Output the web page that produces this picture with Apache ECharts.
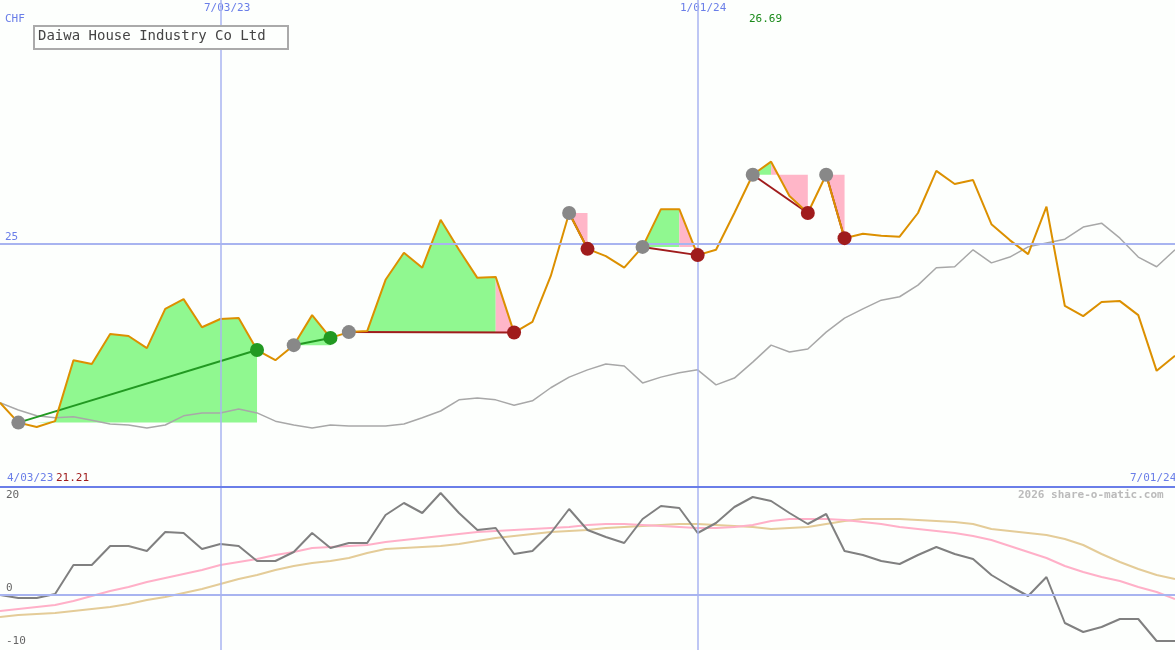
<!DOCTYPE html>
<html>
<head>
<meta charset="utf-8">
<script src="https://cdn.jsdelivr.net/npm/echarts@6/dist/echarts.min.js"></script>
<style>
  html, body { margin: 0; padding: 0; background: #fdfffd; }
  #chart { width: 1175px; height: 650px; }
</style>
</head>
<body>
<div id="chart"></div>
<script>
// weekly closes, CHF
const price = [21.71, 21.30, 21.21, 21.33, 22.59, 22.51, 23.13, 23.09, 22.84, 23.65,
  23.85, 23.27, 23.44, 23.46, 22.80, 22.59, 22.90, 23.52, 23.05, 23.17,
  23.19, 24.25, 24.81, 24.50, 25.49, 24.87, 24.29, 24.31, 23.16, 23.38,
  24.33, 25.63, 24.89, 24.74, 24.50, 24.93, 25.71, 25.71, 24.76, 24.87,
  25.63, 26.42, 26.69, 25.98, 25.63, 26.42, 25.11, 25.20, 25.16, 25.14,
  25.63, 26.50, 26.23, 26.31, 25.40, 25.07, 24.78, 25.76, 23.71, 23.50,
  23.79, 23.81, 23.52, 22.37, 22.68];
const avg = [21.71, 21.56, 21.44, 21.40, 21.42, 21.35, 21.27, 21.25, 21.19, 21.25,
  21.44, 21.50, 21.50, 21.58, 21.50, 21.33, 21.25, 21.19, 21.25, 21.23,
  21.23, 21.23, 21.27, 21.40, 21.54, 21.77, 21.81, 21.77, 21.66, 21.75,
  22.02, 22.24, 22.39, 22.51, 22.47, 22.12, 22.24, 22.33, 22.39, 22.08,
  22.22, 22.55, 22.90, 22.76, 22.82, 23.17, 23.46, 23.65, 23.83, 23.90,
  24.14, 24.50, 24.52, 24.87, 24.60, 24.72, 24.93, 25.01, 25.09, 25.34,
  25.42, 25.11, 24.72, 24.52, 24.87];
const momentum = [0, -0.6, -0.6, 0.2, 6, 6, 9.8, 9.8, 8.8, 12.6,
  12.4, 9.2, 10.2, 9.8, 6.8, 6.8, 8.6, 12.4, 9.4, 10.4,
  10.4, 16, 18.4, 16.4, 20.4, 16.4, 13, 13.4, 8.2, 8.8,
  12.4, 17.2, 13, 11.6, 10.4, 15.2, 17.8, 17.4, 12.4, 14.4,
  17.6, 19.6, 18.8, 16.4, 14.2, 16.2, 8.8, 8, 6.8, 6.2,
  8, 9.6, 8.2, 7.2, 4, 1.8, -0.2, 3.6, -5.6, -7.4,
  -6.4, -4.8, -4.8, -9.2, -9.2];
const fastAvg = [-3.2, -2.8, -2.4, -2.0, -1.2, -0.2, 0.8, 1.6, 2.6, 3.4,
  4.2, 5.0, 6.0, 6.6, 7.2, 8.0, 8.6, 9.4, 9.6, 9.8,
  10.0, 10.6, 11.0, 11.4, 11.8, 12.2, 12.6, 12.8, 13.0, 13.2,
  13.4, 13.6, 14.0, 14.2, 14.2, 14.0, 13.8, 13.6, 13.4, 13.4,
  13.6, 14.0, 14.8, 15.2, 15.2, 15.2, 15.0, 14.6, 14.2, 13.6,
  13.2, 12.8, 12.4, 11.8, 11.0, 9.8, 8.6, 7.4, 5.8, 4.6,
  3.6, 2.8, 1.6, 0.6, -0.8];
const slowAvg = [-4.4, -4.0, -3.8, -3.6, -3.2, -2.8, -2.4, -1.8, -1.0, -0.4,
  0.4, 1.2, 2.2, 3.2, 4.0, 5.0, 5.8, 6.4, 6.8, 7.4,
  8.4, 9.2, 9.4, 9.6, 9.8, 10.2, 10.8, 11.4, 11.8, 12.2,
  12.6, 12.8, 13.0, 13.4, 13.6, 13.8, 14.0, 14.2, 14.2, 14.0,
  13.8, 13.6, 13.2, 13.4, 13.6, 14.2, 14.8, 15.2, 15.2, 15.2,
  15.0, 14.8, 14.6, 14.2, 13.2, 12.8, 12.4, 12.0, 11.2, 10.0,
  8.2, 6.6, 5.2, 4.0, 3.2];
// trades: [entry index, exit index, index where the pink (fading) part starts]
const trades = [[1, 14, 14], [16, 18, 18], [19, 28, 27], [31, 32, 31],
  [35, 38, 37], [41, 44, 42], [45, 46, 45]];
const markDates = ['2023-07-03', '2024-01-01'];

const dates = [];
for (let i = 0; i < price.length; i++) {
  const d = new Date(Date.UTC(2023, 3, 10 + 7 * i));
  dates.push(d.toISOString().slice(0, 10));
}
const pair = arr => arr.map((v, i) => [dates[i], v]);

const font = '"DejaVu Sans Mono", monospace';
const blue = '#6a7ee8';
const lightBlue = '#a8b4f0';

function fillItem(params, api) {
  const t = trades[params.dataIndex];
  const base = price[t[0]];
  const green = [], pink = [];
  for (let i = t[0]; i <= t[2]; i++) green.push(api.coord([dates[i], Math.max(price[i], base)]));
  green.push(api.coord([dates[t[2]], base]), api.coord([dates[t[0]], base]));
  for (let i = t[2]; i <= t[1]; i++) pink.push(api.coord([dates[i], price[i]]));
  pink.push(api.coord([dates[t[1]], base]), api.coord([dates[t[2]], base]));
  const children = [{ type: 'polygon', shape: { points: green }, style: { fill: '#90f890' } }];
  if (t[1] > t[2]) children.push({ type: 'polygon', shape: { points: pink }, style: { fill: '#ffb6c8' } });
  return { type: 'group', children: children };
}

const tradeLines = trades.map(t => ({
  coords: [[dates[t[0]], price[t[0]]], [dates[t[1]], price[t[1]]]],
  lineStyle: { color: price[t[1]] > price[t[0]] ? '#229922' : '#a01c1c', width: 2, opacity: 1 }
}));
const entryDots = trades.map(t => [dates[t[0]], price[t[0]]]);
const exitDots = trades.map(t => ({
  value: [dates[t[1]], price[t[1]]],
  itemStyle: { color: price[t[1]] > price[t[0]] ? '#229922' : '#a01c1c', opacity: 1 }
}));

const vLines = {
  silent: true, symbol: 'none', label: { show: false },
  lineStyle: { color: lightBlue, type: 'solid', width: 1.5 },
  data: markDates.map(d => ({ xAxis: d }))
};
const hLine = v => ({
  silent: true, symbol: 'none', label: { show: false },
  lineStyle: { color: lightBlue, type: 'solid', width: 2 },
  data: [{ yAxis: v }]
});

const txt = (x, y, s, color, extra) => Object.assign({
  type: 'text', left: x, top: y,
  style: { text: s, fill: color, font: '11px ' + font }
}, extra || {});

const chart = echarts.init(document.getElementById('chart'));
chart.setOption({
  backgroundColor: '#fdfffd',
  animation: false,
  grid: [
    { left: 0, right: 0, top: 0, height: 487 },
    { left: 0, right: 0, top: 487, height: 163 }
  ],
  xAxis: [0, 1].map(g => ({
    type: 'time', gridIndex: g, min: dates[0], max: dates[dates.length - 1],
    show: false, splitLine: { show: false }
  })),
  yAxis: [
    { gridIndex: 0, min: 19.97, max: 30.03, show: false, splitLine: { show: false } },
    { gridIndex: 1, min: -11, max: 21.6, show: false, splitLine: { show: false } }
  ],
  series: [
    { type: 'custom', xAxisIndex: 0, yAxisIndex: 0, renderItem: fillItem,
      data: trades.map((t, i) => i), z: 1, markLine: vLines },
    { type: 'line', xAxisIndex: 0, yAxisIndex: 0, data: pair(avg), symbol: 'none',
      lineStyle: { color: '#a8a8a8', width: 1.5 }, z: 2, markLine: hLine(25) },
    { type: 'lines', coordinateSystem: 'cartesian2d', xAxisIndex: 0, yAxisIndex: 0,
      data: tradeLines, lineStyle: { opacity: 1 }, z: 3 },
    { type: 'line', xAxisIndex: 0, yAxisIndex: 0, data: pair(price), symbol: 'none',
      lineStyle: { color: '#dc9000', width: 2 }, z: 4 },
    { type: 'scatter', xAxisIndex: 0, yAxisIndex: 0, data: entryDots, symbolSize: 14,
      itemStyle: { color: '#888888', opacity: 1 }, z: 5 },
    { type: 'scatter', xAxisIndex: 0, yAxisIndex: 0, data: exitDots, symbolSize: 14, z: 5 },
    { type: 'line', xAxisIndex: 1, yAxisIndex: 1, data: pair(slowAvg), symbol: 'none',
      lineStyle: { color: '#e4cc98', width: 2 }, markLine: vLines },
    { type: 'line', xAxisIndex: 1, yAxisIndex: 1, data: pair(fastAvg), symbol: 'none',
      lineStyle: { color: '#ffb0c8', width: 2 }, markLine: hLine(0) },
    { type: 'line', xAxisIndex: 1, yAxisIndex: 1, data: pair(momentum), symbol: 'none',
      lineStyle: { color: '#808080', width: 2 } }
  ],
  graphic: [
    { type: 'rect', left: 0, top: 486, shape: { width: 1175, height: 2 }, style: { fill: blue }, z: 10 },
    { type: 'rect', left: 33, top: 25, shape: { width: 254, height: 23 },
      style: { fill: '#fdfffd', stroke: '#aaaaaa', lineWidth: 2 }, z: 10 },
    txt(38, 29, 'Daiwa House Industry Co Ltd', '#444444', { style: { text: 'Daiwa House Industry Co Ltd', fill: '#444444', font: '14px ' + font }, z: 11 }),
    txt(5, 14, 'CHF', blue),
    txt(204, 3, '7/03/23', blue),
    txt(680, 3, '1/01/24', blue),
    txt(749, 14, '26.69', '#1a8a1a'),
    txt(5, 232, '25', blue),
    txt(7, 473, '4/03/23', blue),
    txt(56, 473, '21.21', '#a01c1c'),
    txt(1130, 473, '7/01/24', blue),
    txt(6, 490, '20', '#666666'),
    txt(6, 583, '0', '#666666'),
    txt(6, 636, '-10', '#666666'),
    txt(1018, 490, '2026 share-o-matic.com', '#bbbbbb', { style: { text: '2026 share-o-matic.com', fill: '#bbbbbb', font: 'bold 11px ' + font } })
  ]
});
</script>
</body>
</html>
